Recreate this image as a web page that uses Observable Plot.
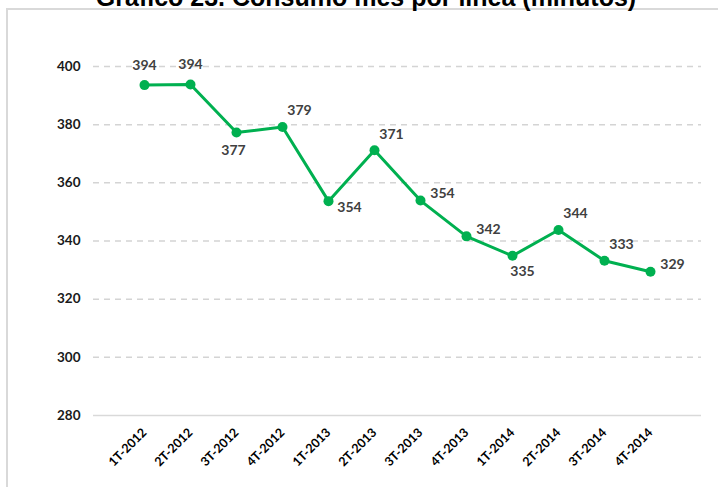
<!DOCTYPE html>
<html>
<head>
<meta charset="utf-8">
<script src="https://cdn.jsdelivr.net/npm/d3@7"></script>
<script src="https://cdn.jsdelivr.net/npm/@observablehq/plot@0.6"></script>
<style>
  html, body { margin: 0; padding: 0; background: #fff; }
  #wrap { position: relative; width: 718px; height: 487px; overflow: hidden; }
  #frame { position: absolute; left: 6px; top: 8px; right: -10px; bottom: -10px;
           border-top: 2px solid #d9d9d9; border-left: 2px solid #d9d9d9; }
  #title { position: absolute; top: -15px; left: 0; width: 732px; text-align: center;
           font: bold 25px "Liberation Sans", Arial, sans-serif; line-height: 25px; color: #000; white-space: nowrap; }
  #chart { position: absolute; left: 0; top: 0; }
</style>
</head>
<body>
<div id="wrap">
  <div id="frame"></div>
  <div id="title">Gráfico 23. Consumo mes por línea (minutos)</div>
  <div id="chart"></div>
</div>
<script>
const categories = ["1T-2012","2T-2012","3T-2012","4T-2012","1T-2013","2T-2013","3T-2013","4T-2013","1T-2014","2T-2014","3T-2014","4T-2014"];
const values = [393.6, 393.8, 377.3, 379.2, 353.7, 371.2, 353.9, 341.6, 334.9, 343.8, 333.2, 329.4];
const labels = ["394","394","377","379","354","371","354","342","335","344","333","329"];
const yTicks = [280, 300, 320, 340, 360, 380, 400];

const data = categories.map((c, i) => ({cat: c, value: values[i], label: labels[i], i}));

const green = "#00B050";
const font = "Lato, 'Open Sans', sans-serif";

function labelGroup(idx, dx, dy) {
  return Plot.text(data.filter(d => idx.includes(d.i)), {
    x: "cat", y: "value", text: "label", dx, dy,
    fill: "#404040", fontWeight: "bold", fontSize: 14, fontFamily: font
  });
}

const chart = Plot.plot({
  width: 718,
  height: 487,
  marginLeft: 93,
  marginRight: 17,
  marginTop: 66,
  marginBottom: 72,
  style: {background: "transparent", fontFamily: font},
  x: {type: "point", domain: categories, padding: 1},
  y: {domain: [280, 400]},
  marks: [
    Plot.ruleY(yTicks.filter(t => t > 280), {stroke: "#d4d4d4", strokeWidth: 1.5, strokeDasharray: "6,5"}),
    Plot.ruleY([280], {stroke: "#d9d9d9", strokeWidth: 1.5}),
    Plot.axisY({ticks: yTicks, tickSize: 0, tickPadding: 13, fontWeight: "bold", fontSize: 13.5, fill: "#1a1a1a", label: null}),
    Plot.axisX({tickRotate: -45, tickSize: 0, tickPadding: 15, fontWeight: "bold", fontSize: 12.5, fill: "#000", label: null}),
    Plot.line(data, {x: "cat", y: "value", stroke: green, strokeWidth: 3}),
    Plot.dot(data, {x: "cat", y: "value", fill: green, r: 5}),
    labelGroup([0, 1], 0, -20),
    labelGroup([2], -3, 18),
    labelGroup([8], 10, 16),
    labelGroup([4], 21, 6),
    labelGroup([3, 5, 9, 10], 17, -16),
    labelGroup([6, 7, 11], 22, -7)
  ]
});
document.getElementById("chart").appendChild(chart);
</script>
</body>
</html>
